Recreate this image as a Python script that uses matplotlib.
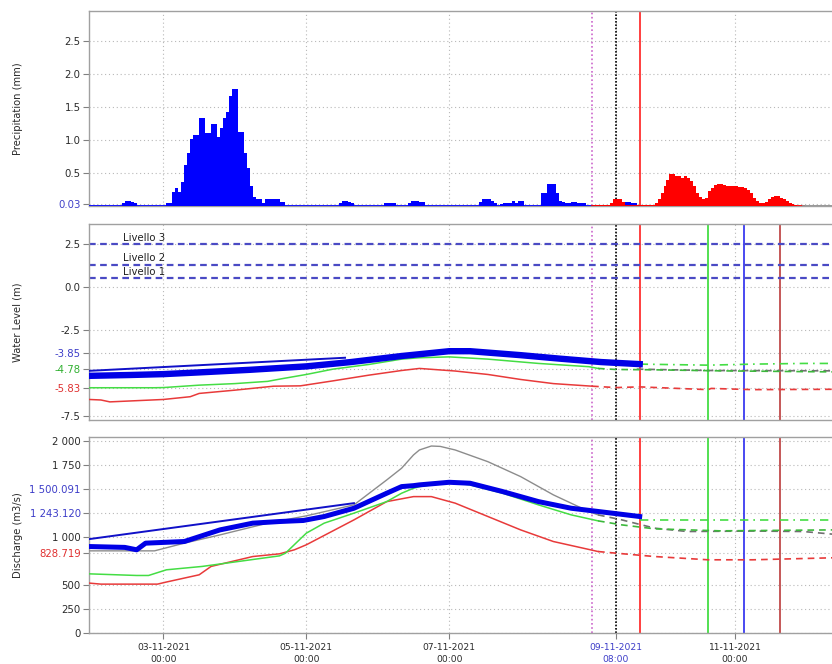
import matplotlib
matplotlib.use('Agg')
import matplotlib.pyplot as plt
import numpy as np
import pandas as pd

plt.rcParams['font.family'] = 'DejaVu Sans'
plt.rcParams['font.size'] = 7.5

# hours are counted from 03-11-2021 00:00
T0 = pd.Timestamp('2021-11-03 00:00')
X_START_H, X_END_H = -25, 224.6

# ---- precipitation (hourly, mm) ----
rain_obs_start = ['2021-11-02 10:00', '2021-11-03 01:00', '2021-11-05 11:00',
                  '2021-11-06 02:00', '2021-11-06 10:00', '2021-11-07 10:00',
                  '2021-11-07 17:00', '2021-11-08 07:00', '2021-11-08 14:00',
                  '2021-11-09 11:00']
rain_obs_vals = [
    [0.05, 0.07, 0.07, 0.06, 0.05],
    [0.05, 0.05, 0.21, 0.27, 0.21, 0.36, 0.62, 0.81, 1.01, 1.08, 1.08, 1.34,
     1.34, 1.11, 1.11, 1.24, 1.24, 1.04, 1.19, 1.33, 1.42, 1.67, 1.78, 1.78,
     1.13, 1.13, 0.81, 0.57, 0.30, 0.14, 0.10, 0.10, 0.05, 0.11, 0.11, 0.11,
     0.11, 0.11, 0.06, 0.06],
    [0.05, 0.07, 0.07, 0.06, 0.04],
    [0.04, 0.04, 0.04, 0.04],
    [0.05, 0.07, 0.07, 0.07, 0.06, 0.06],
    [0.06, 0.10, 0.10, 0.10, 0.07, 0.05],
    [0.03, 0.04, 0.05, 0.05, 0.07, 0.04, 0.07, 0.07],
    [0.20, 0.20, 0.34, 0.34, 0.34, 0.20, 0.08],
    [0.06, 0.05, 0.05, 0.06, 0.06, 0.05, 0.05, 0.04],
    [0.06, 0.06, 0.05, 0.04],
]
rain_fc_start = '2021-11-09 00:00'
rain_fc_vals = ([0.02] * 6 + [0.05, 0.10, 0.11, 0.10, 0.06] + [0.02] * 10 +
                [0.05, 0.10, 0.20, 0.30, 0.40, 0.48, 0.48, 0.46, 0.45, 0.43,
                 0.46, 0.42, 0.38, 0.30, 0.20, 0.13, 0.10, 0.12, 0.22, 0.28,
                 0.32, 0.33, 0.33, 0.32, 0.31, 0.30, 0.30, 0.30, 0.29, 0.29,
                 0.28, 0.25, 0.20, 0.12, 0.07, 0.05, 0.05, 0.06, 0.10, 0.13,
                 0.15, 0.15, 0.12, 0.10, 0.07, 0.05, 0.03, 0.02])

# ---- water level (m) ----
wl_blue_h = [-25, -11, 0, 12, 29, 48, 63, 80, 96, 103, 120, 133, 147, 160]
wl_blue = [-5.15, -5.1, -5.05, -4.95, -4.8, -4.6, -4.35, -4.0, -3.72, -3.72,
           -3.95, -4.15, -4.35, -4.47]
wl_blue_thin_h = [-25, 61]
wl_blue_thin = [-4.86, -4.1]
wl_green_h = [-25, -3, 0, 12, 24, 35, 40, 48, 57, 69, 80, 86, 96, 109, 126,
              143, 146]
wl_green = [-5.84, -5.84, -5.83, -5.69, -5.6, -5.47, -5.31, -5.07, -4.76,
            -4.49, -4.18, -4.1, -4.05, -4.18, -4.43, -4.62, -4.72]
wl_red_h = [-25, -21, -18, 0, 9, 12, 24, 37, 46, 57, 69, 80, 86, 98, 109, 120,
            131, 144]
wl_red = [-6.52, -6.55, -6.66, -6.52, -6.36, -6.17, -5.98, -5.75, -5.73,
          -5.44, -5.11, -4.84, -4.72, -4.87, -5.07, -5.36, -5.6, -5.75]
wl_red_fc_h = [144, 152, 160, 183, 184, 198, 225]
wl_red_fc = [-5.75, -5.83, -5.79, -5.95, -5.88, -5.95, -5.93]
wl_green_fc_h = [146, 152, 165, 187, 225]
wl_green_fc = [-4.72, -4.78, -4.8, -4.86, -4.92]
wl_green_fc2_h = [160, 183, 198, 215, 225]
wl_green_fc2 = [-4.47, -4.53, -4.47, -4.43, -4.43]
wl_gray_fc_h = [159, 183, 225]
wl_gray_fc = [-4.76, -4.84, -4.86]
levels = [0.5, 1.3, 2.5]
level_names = ['Livello 1', 'Livello 2', 'Livello 3']

# ---- discharge (m3/s) ----
q_gray_h = [-25, -3, 7, 19, 35, 48, 64, 75, 80, 84, 86, 90, 93, 98, 109, 120,
            131, 143, 146]
q_gray = [854, 854, 934, 1020, 1142, 1218, 1332, 1591, 1713, 1851, 1903,
          1944, 1940, 1903, 1781, 1626, 1436, 1262, 1228]
q_gray_fc_h = [146, 154, 165, 176, 198, 215, 225]
q_gray_fc = [1228, 1176, 1090, 1055, 1060, 1055, 1027]
q_blue_h = [-25, -13, -9, -6, 7, 19, 30, 39, 47, 54, 64, 75, 80, 84, 86, 96,
            103, 114, 126, 137, 148, 160]
q_blue = [899, 890, 865, 934, 951, 1072, 1142, 1159, 1170, 1211, 1297, 1453,
          1522, 1532, 1540, 1567, 1557, 1470, 1366, 1297, 1256, 1211]
q_blue_thin_h = [-25, 64]
q_blue_thin = [976, 1350]
q_green_h = [-25, -9, -5, 1, 13, 39, 41, 48, 54, 64, 75, 80, 84, 86, 96, 103,
             114, 126, 137, 146]
q_green = [615, 598, 598, 657, 692, 802, 830, 1038, 1142, 1246, 1366, 1453,
           1505, 1522, 1567, 1540, 1453, 1332, 1228, 1166]
q_green_fc_h = [146, 154, 165, 187, 225]
q_green_fc = [1166, 1124, 1083, 1062, 1072]
q_green_fc2_h = [160, 225]
q_green_fc2 = [1176, 1176]
q_red_h = [-25, -21, -2, 1, 12, 16, 30, 39, 44, 48, 64, 75, 84, 90, 98, 109,
           120, 131, 142, 146]
q_red = [519, 508, 508, 530, 605, 692, 795, 823, 865, 917, 1176, 1366, 1418,
         1418, 1350, 1211, 1072, 951, 875, 847]
q_red_fc_h = [146, 152, 165, 183, 198, 225]
q_red_fc = [847, 830, 795, 761, 761, 782]

# ---- time markers ----
date_ticks = ['2021-11-03 00:00', '2021-11-05 00:00', '2021-11-07 00:00',
              '2021-11-09 08:00', '2021-11-11 00:00']
t_magenta = '2021-11-09 00:00'
t_now = '2021-11-09 08:00'
t_red = '2021-11-09 16:00'
t_green = '2021-11-10 15:00'
t_blue = '2021-11-11 03:00'
t_darkred = '2021-11-11 15:00'


def at(hours):
    return T0 + pd.to_timedelta(np.asarray(hours, dtype=float), unit='h')


BLUE = '#0000e6'
GREEN = '#44dd44'
RED = '#e83a3a'
GRAY = '#8c8c8c'
TXT = '#2a2a2a'
DOT = (0, (1, 2.5))

fig = plt.figure(figsize=(8.32, 6.64), dpi=100)
ax1 = fig.add_axes([0.107, 0.6898, 0.893, 0.2937])
ax2 = fig.add_axes([0.107, 0.3675, 0.893, 0.2952])
ax3 = fig.add_axes([0.107, 0.0467, 0.893, 0.2952])

tick_times = pd.to_datetime(date_ticks)
for ax in (ax1, ax2, ax3):
    ax.set_xlim(at(X_START_H), at(X_END_H))
    for s in ('left', 'top', 'bottom'):
        ax.spines[s].set_color('#a0a0a0')
        ax.spines[s].set_linewidth(1.0)
    ax.spines['right'].set_visible(False)
    ax.set_xticks(tick_times)
    ax.grid(True, linestyle=DOT, color='#b8b8b8', linewidth=0.8)
    ax.set_axisbelow(True)
    ax.tick_params(axis='y', direction='out', length=4, width=0.8,
                   color='#808080', labelcolor=TXT, pad=2, labelsize=7.3)
    ax.yaxis.set_label_coords(-0.089, 0.5)

for ax in (ax1, ax2):
    ax.tick_params(axis='x', length=0, labelbottom=False)

# vertical markers
ax1.axvline(pd.Timestamp(t_magenta), color='#cc66cc', lw=1.2, ls=(0, (1, 1.5)))
ax1.axvline(pd.Timestamp(t_now), color='black', lw=1.2, ls=(0, (1, 1)))
ax1.axvline(pd.Timestamp(t_red), color='#ff3030', lw=1.3)
for ax in (ax2, ax3):
    ax.axvline(pd.Timestamp(t_magenta), color='#cc66cc', lw=1.2, ls=(0, (1, 1.5)))
    ax.axvline(pd.Timestamp(t_now), color='black', lw=1.2, ls=(0, (1, 1)))
    ax.axvline(pd.Timestamp(t_red), color='#ff3030', lw=1.3)
    ax.axvline(pd.Timestamp(t_green), color='#44dd44', lw=1.3)
    ax.axvline(pd.Timestamp(t_blue), color='#3a3af0', lw=1.3)
    ax.axvline(pd.Timestamp(t_darkred), color='#c04a4a', lw=1.3)

# ---- panel 1: precipitation ----
def rain_fill(ax, start, vals, color):
    t = pd.Timestamp(start) + pd.to_timedelta(np.arange(len(vals) + 1), unit='h')
    v = list(vals) + [0.0]
    ax.fill_between(t, 0, v, step='post', color=color, linewidth=0, zorder=3)

rain_fill(ax1, rain_fc_start, rain_fc_vals, '#ff0000')
for st, vals in zip(rain_obs_start, rain_obs_vals):
    rain_fill(ax1, st, vals, '#0000ff')
ax1.plot([at(X_START_H), pd.Timestamp(t_magenta)], [0, 0], color='#0000ff', lw=2, zorder=4)
ax1.plot([pd.Timestamp(t_magenta), pd.Timestamp('2021-11-11 23:00')], [0, 0],
         color='#ff0000', lw=2, zorder=4)
ax1.plot([pd.Timestamp('2021-11-11 23:00'), at(X_END_H)], [0, 0],
         color='#909090', lw=2, zorder=4)
ax1.set_ylim(0, 2.96)
ax1.set_yticks([0.03, 0.5, 1.0, 1.5, 2.0, 2.5])
ax1.set_yticklabels(['0.03', '0.5', '1.0', '1.5', '2.0', '2.5'])
ax1.get_yticklabels()[0].set_color('#4040c8')
ax1.set_ylabel('Precipitation (mm)', fontsize=7.2, color=TXT)

# ---- panel 2: water level ----
for lv, name in zip(levels, level_names):
    ax2.axhline(lv, color='#4a4ac4', lw=1.6, ls=(0, (3, 2)), zorder=2)
    ax2.text(pd.Timestamp('2021-11-02 10:30'), lv + 0.08, name, fontsize=7.3,
             color='#202020', va='bottom', ha='left', zorder=5)
ax2.plot(at(wl_red_h), wl_red, color=RED, lw=1.1, zorder=3)
ax2.plot(at(wl_red_fc_h), wl_red_fc, color=RED, lw=1.2, ls=(0, (4, 3)), zorder=3)
ax2.plot(at(wl_gray_fc_h), wl_gray_fc, color='#707070', lw=1.2, ls=(0, (4, 3)), zorder=3)
ax2.plot(at(wl_green_h), wl_green, color=GREEN, lw=1.1, zorder=3)
ax2.plot(at(wl_green_fc_h), wl_green_fc, color='#3cb83c', lw=1.2, ls=(0, (4, 3)), zorder=3)
ax2.plot(at(wl_green_fc2_h), wl_green_fc2, color=GREEN, lw=1.2,
         ls=(0, (5, 3, 1, 3)), zorder=3)
ax2.plot(at(wl_blue_h), wl_blue, color=BLUE, lw=4.6, zorder=4)
ax2.plot(at(wl_blue_thin_h), wl_blue_thin, color='#1010c8', lw=1.4, zorder=4)
ax2.set_ylim(-7.71, 3.66)
ax2.set_yticks([-7.5, -5.83, -4.78, -3.85, -2.5, 0.0, 2.5])
ax2.set_yticklabels(['-7.5', '-5.83', '-4.78', '-3.85', '-2.5', '0.0', '2.5'])
lab2 = ax2.get_yticklabels()
lab2[1].set_color('#e03030')
lab2[2].set_color('#30b030')
lab2[3].set_color('#3c3cc8')
ax2.set_ylabel('Water Level (m)', fontsize=7.2, color=TXT)

# ---- panel 3: discharge ----
ax3.plot(at(q_gray_h), q_gray, color=GRAY, lw=1.0, zorder=3)
ax3.plot(at(q_gray_fc_h), q_gray_fc, color='#707070', lw=1.2, ls=(0, (4, 3)), zorder=3)
ax3.plot(at(q_red_h), q_red, color=RED, lw=1.1, zorder=3)
ax3.plot(at(q_red_fc_h), q_red_fc, color=RED, lw=1.2, ls=(0, (4, 3)), zorder=3)
ax3.plot(at(q_green_h), q_green, color=GREEN, lw=1.1, zorder=3)
ax3.plot(at(q_green_fc_h), q_green_fc, color='#3cb83c', lw=1.2, ls=(0, (4, 3)), zorder=3)
ax3.plot(at(q_green_fc2_h), q_green_fc2, color=GREEN, lw=1.2,
         ls=(0, (5, 3, 1, 3)), zorder=3)
ax3.plot(at(q_blue_thin_h), q_blue_thin, color='#1010c8', lw=1.4, zorder=4)
ax3.plot(at(q_blue_h), q_blue, color=BLUE, lw=3.6, zorder=4)
ax3.set_ylim(0, 2038)
ax3.set_yticks([0, 250, 500, 828.719, 1000, 1243.120, 1500.091, 1750, 2000])
ax3.set_yticklabels(['0', '250', '500', '828.719', '1 000', '1 243.120',
                     '1 500.091', '1 750', '2 000'])
lab3 = ax3.get_yticklabels()
lab3[3].set_color('#e03030')
lab3[5].set_color('#3c3cc8')
lab3[6].set_color('#3c3cc8')
ax3.set_ylabel('Discharge (m3/s)', fontsize=7.2, color=TXT)

ax3.set_xticklabels([t.strftime('%d-%m-%Y\n%H:%M') for t in tick_times],
                    fontsize=6.6, linespacing=1.4)
ax3.tick_params(axis='x', direction='out', length=4, width=0.8,
                color='#808080', labelcolor=TXT, pad=3)
ax3.get_xticklabels()[3].set_color('#3c3cc8')

fig.savefig('out.png', dpi=100)
